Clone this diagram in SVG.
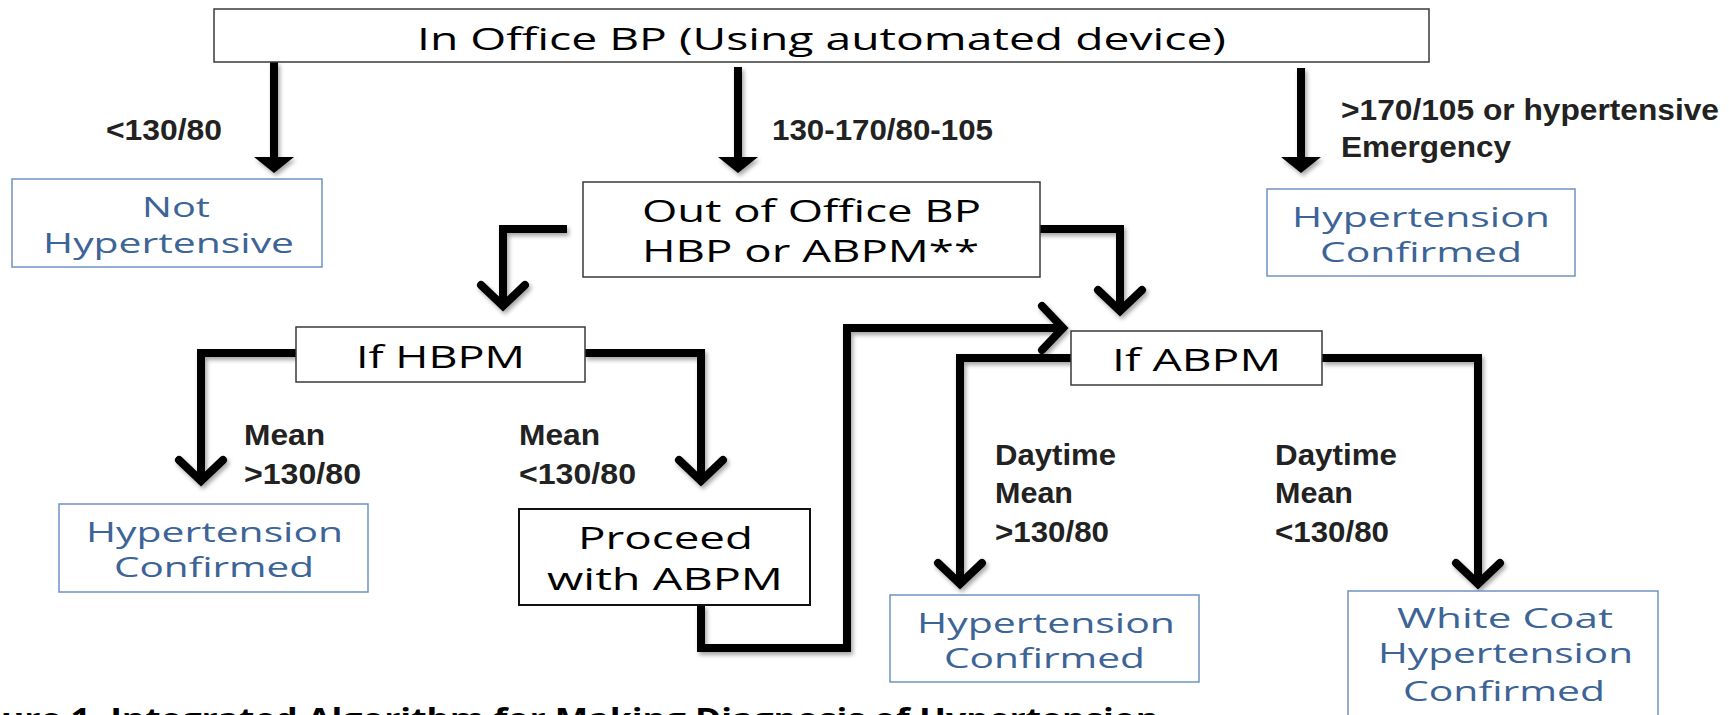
<svg xmlns="http://www.w3.org/2000/svg" width="1729" height="715" viewBox="0 0 1729 715">
  <style>
    .box { fill: #fff; stroke: #3a3a3a; stroke-width: 1.5; }
    .res { fill: #fff; stroke: #6f93c4; stroke-width: 1.5; }
    .t { font-family: "Open Sans", "Liberation Sans", sans-serif; font-size: 31px; fill: #000; }
    .b { font-family: "Open Sans", "Liberation Sans", sans-serif; font-size: 27px; fill: #3d6497; }
    .lbl { font-family: "Liberation Sans", Arial, sans-serif; font-weight: bold; font-size: 29px; fill: #222; }
    .cap { font-family: "Open Sans", "Liberation Sans", sans-serif; font-weight: bold; font-size: 31px; fill: #000; }
    .c { fill: none; stroke: #000; stroke-width: 8; stroke-linejoin: miter; }
    .tri { marker-end: url(#tri); }
    .chev { marker-end: url(#chev); }
  </style>
  <defs>
    <filter id="shadow" x="-20%" y="-20%" width="140%" height="140%">
      <feDropShadow dx="2" dy="3" stdDeviation="2" flood-color="#000" flood-opacity="0.35"/>
    </filter>
    <!-- solid triangular head -->
    <marker id="tri" markerUnits="userSpaceOnUse" viewBox="0 0 16 40" refX="4" refY="20" markerWidth="16" markerHeight="40" orient="auto">
      <path d="M0,0 L16,20 L0,40 Z" fill="#000"/>
    </marker>
    <!-- open chevron head -->
    <marker id="chev" markerUnits="userSpaceOnUse" viewBox="-30 -30 40 60" refX="0" refY="0" markerWidth="40" markerHeight="60" orient="auto" overflow="visible">
      <path d="M-21,-22 L0,0 L-21,22" fill="none" stroke="#000" stroke-width="8" stroke-linecap="round" stroke-linejoin="miter"/>
    </marker>
  </defs>

  <rect width="1729" height="715" fill="#fff"/>

  <!-- connectors -->
  <g id="connectors" filter="url(#shadow)">
    <path class="c tri" d="M274,62 V161"/>
    <path class="c tri" d="M738,67 V161"/>
    <path class="c tri" d="M1301,68 V161"/>
    <path class="c chev" d="M567,229 H503 V306"/>
    <path class="c chev" d="M1036,229 H1120 V311"/>
    <path class="c chev" d="M296,353 H201 V481"/>
    <path class="c chev" d="M585,353 H701 V481"/>
    <path class="c chev" d="M701,605 V648 H847 V328 H1063"/>
    <path class="c chev" d="M1071,358 H960 V584"/>
    <path class="c chev" d="M1322,358 H1478 V584"/>
  </g>

  <!-- edge labels -->
  <g id="labels">
    <text class="lbl" x="106" y="140" textLength="116" lengthAdjust="spacingAndGlyphs">&lt;130/80</text>
    <text class="lbl" x="772" y="140" textLength="221" lengthAdjust="spacingAndGlyphs">130-170/80-105</text>
    <text class="lbl" x="1341" y="120" textLength="378" lengthAdjust="spacingAndGlyphs">&gt;170/105 or hypertensive</text>
    <text class="lbl" x="1341" y="157" textLength="170" lengthAdjust="spacingAndGlyphs">Emergency</text>
    <text class="lbl" x="244" y="445" textLength="81" lengthAdjust="spacingAndGlyphs">Mean</text>
    <text class="lbl" x="244" y="484" textLength="117" lengthAdjust="spacingAndGlyphs">&gt;130/80</text>
    <text class="lbl" x="519" y="445" textLength="81" lengthAdjust="spacingAndGlyphs">Mean</text>
    <text class="lbl" x="519" y="484" textLength="117" lengthAdjust="spacingAndGlyphs">&lt;130/80</text>
    <text class="lbl" x="995" y="465" textLength="121" lengthAdjust="spacingAndGlyphs">Daytime</text>
    <text class="lbl" x="995" y="503" textLength="78" lengthAdjust="spacingAndGlyphs">Mean</text>
    <text class="lbl" x="995" y="542" textLength="114" lengthAdjust="spacingAndGlyphs">&gt;130/80</text>
    <text class="lbl" x="1275" y="465" textLength="122" lengthAdjust="spacingAndGlyphs">Daytime</text>
    <text class="lbl" x="1275" y="503" textLength="78" lengthAdjust="spacingAndGlyphs">Mean</text>
    <text class="lbl" x="1275" y="542" textLength="114" lengthAdjust="spacingAndGlyphs">&lt;130/80</text>
  </g>

  <g id="office-bp">
    <rect class="box" x="214" y="9" width="1215" height="53"/>
    <text class="t" x="417" y="50" textLength="809" lengthAdjust="spacingAndGlyphs">In Office BP (Using automated device)</text>
  </g>

  <g id="not-hypertensive">
    <rect class="res" x="12" y="179" width="310" height="88"/>
    <text class="b" x="142" y="217" textLength="68" lengthAdjust="spacingAndGlyphs">Not</text>
    <text class="b" x="43" y="253" textLength="251" lengthAdjust="spacingAndGlyphs">Hypertensive</text>
  </g>

  <g id="out-of-office">
    <rect class="box" x="583" y="182" width="457" height="95"/>
    <text class="t" x="642" y="222" textLength="339" lengthAdjust="spacingAndGlyphs">Out of Office BP</text>
    <text class="t" x="642" y="262" textLength="337" lengthAdjust="spacingAndGlyphs">HBP or ABPM**</text>
  </g>

  <g id="htn-confirmed-emergency">
    <rect class="res" x="1267" y="189" width="308" height="87"/>
    <text class="b" x="1292" y="227" textLength="258" lengthAdjust="spacingAndGlyphs">Hypertension</text>
    <text class="b" x="1320" y="262" textLength="202" lengthAdjust="spacingAndGlyphs">Confirmed</text>
  </g>

  <g id="if-hbpm">
    <rect class="box" x="296" y="327" width="289" height="55"/>
    <text class="t" x="356" y="368" textLength="169" lengthAdjust="spacingAndGlyphs">If HBPM</text>
  </g>

  <g id="if-abpm">
    <rect class="box" x="1071" y="331" width="251" height="54"/>
    <text class="t" x="1112" y="371" textLength="169" lengthAdjust="spacingAndGlyphs">If ABPM</text>
  </g>

  <g id="htn-confirmed-hbpm">
    <rect class="res" x="59" y="504" width="309" height="88"/>
    <text class="b" x="86" y="542" textLength="257" lengthAdjust="spacingAndGlyphs">Hypertension</text>
    <text class="b" x="114" y="577" textLength="200" lengthAdjust="spacingAndGlyphs">Confirmed</text>
  </g>

  <g id="proceed-abpm">
    <rect class="box" x="519" y="509" width="291" height="96" style="stroke:#111;stroke-width:2"/>
    <text class="t" x="578" y="549" textLength="175" lengthAdjust="spacingAndGlyphs">Proceed</text>
    <text class="t" x="547" y="590" textLength="236" lengthAdjust="spacingAndGlyphs">with ABPM</text>
  </g>

  <g id="htn-confirmed-abpm">
    <rect class="res" x="890" y="595" width="309" height="87"/>
    <text class="b" x="917" y="633" textLength="258" lengthAdjust="spacingAndGlyphs">Hypertension</text>
    <text class="b" x="944" y="668" textLength="201" lengthAdjust="spacingAndGlyphs">Confirmed</text>
  </g>

  <g id="white-coat">
    <rect class="res" x="1348" y="591" width="310" height="140"/>
    <text class="b" x="1397" y="628" textLength="216" lengthAdjust="spacingAndGlyphs">White Coat</text>
    <text class="b" x="1378" y="663" textLength="255" lengthAdjust="spacingAndGlyphs">Hypertension</text>
    <text class="b" x="1403" y="701" textLength="202" lengthAdjust="spacingAndGlyphs">Confirmed</text>
  </g>

  <!-- figure caption, clipped by the bottom edge -->
  <text class="cap" x="1" y="730" textLength="1158" lengthAdjust="spacingAndGlyphs">ure 1. Integrated Algorithm for Making Diagnosis of Hypertension</text>
</svg>
